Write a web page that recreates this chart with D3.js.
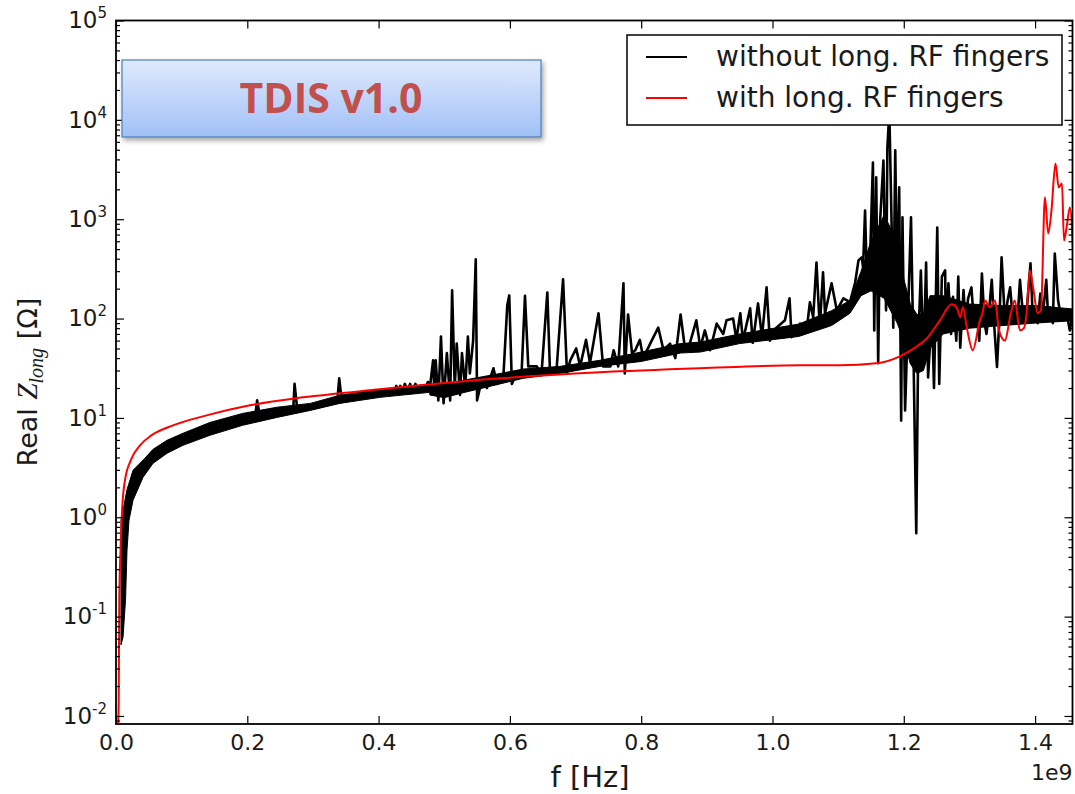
<!DOCTYPE html>
<html>
<head>
<meta charset="utf-8">
<script src="https://cdn.jsdelivr.net/npm/d3@7"></script>
<style>
body { margin: 0; background: #fff; }
</style>
</head>
<body>
<div id="my_dataviz"></div>
<script>
// frequency is in units of 1e9 Hz, impedance in Ohm

// with long. RF fingers (red)
var redPts = [
    [0.0030, 0.005], [0.0035, 0.0083], [0.0041, 0.0144], [0.005, 0.146], [0.0069, 0.47],
    [0.0102, 1.48], [0.0137, 2.36], [0.0224, 3.74], [0.0366, 5.3], [0.0544, 6.7],
    [0.0868, 8.4], [0.138, 10.6], [0.204, 13.4], [0.285, 16.1], [0.402, 19.4],
    [0.585, 25.0], [0.737, 28.8], [0.890, 31.6], [1.042, 33.8], [1.103, 33.8],
    [1.158, 35.4], [1.194, 41.7], [1.217, 51], [1.235, 63], [1.255, 96],
    [1.273, 139], [1.281, 127], [1.286, 103], [1.290, 130], [1.296, 81],
    [1.305, 48], [1.316, 96], [1.320, 113], [1.324, 152], [1.331, 130],
    [1.339, 152], [1.345, 76], [1.354, 60], [1.363, 113], [1.369, 152],
    [1.377, 76], [1.383, 80], [1.387, 113], [1.392, 305], [1.397, 206],
    [1.404, 113], [1.409, 121], [1.415, 1660], [1.420, 720], [1.425, 1225],
    [1.431, 3640], [1.436, 2090], [1.441, 2290], [1.444, 612], [1.448, 826],
    [1.453, 1315], [1.459, 305]
];

// without long. RF fingers (black): dense low-frequency band, [f, low, high]
var bandPts = [
    [0.0076, 0.052, 0.93], [0.0107, 0.062, 1.17], [0.0145, 0.146, 1.59], [0.0168, 0.47, 1.9],
    [0.0198, 0.93, 2.2], [0.0259, 1.48, 2.97], [0.0411, 2.52, 3.74], [0.0564, 3.49, 4.83],
    [0.0777, 4.40, 5.95], [0.102, 5.30, 7.0], [0.143, 6.68, 9.0], [0.193, 8.43, 11.1],
    [0.245, 10.1, 12.8], [0.296, 11.9, 14.0], [0.341, 14.0, 16.9], [0.402, 16.1, 19.4],
    [0.478, 18.1, 21.8]
];

// without long. RF fingers (black): envelope of the fast ripple above 0.48e9, [f, low, high]
var rippleBand = [
    [0.478, 17, 22], [0.50, 16, 22], [0.53, 18, 24], [0.585, 22, 28], [0.62, 25, 31],
    [0.676, 28, 33], [0.737, 33, 38], [0.80, 37, 46], [0.86, 45, 56], [0.89, 46, 58],
    [0.95, 56, 70], [1.04, 66, 88], [1.09, 85, 120], [1.118, 113, 152], [1.135, 170, 300],
    [1.15, 190, 600], [1.17, 160, 1100], [1.19, 90, 600], [1.20, 60, 250], [1.21, 35, 140],
    [1.22, 28, 110], [1.23, 30, 110], [1.24, 50, 170], [1.26, 70, 170], [1.30, 80, 140],
    [1.35, 85, 135], [1.40, 90, 135], [1.457, 95, 125]
];

// without long. RF fingers (black): trace
var blackPts = [
    [0.193, 9.7], [0.204, 10.1], [0.212, 10.3], [0.215, 15], [0.219, 10.5], [0.235, 11.0],
    [0.245, 11.4], [0.265, 12.0], [0.270, 12.2], [0.272, 22], [0.276, 12.3], [0.280, 12.4],
    [0.311, 13.1], [0.337, 14.4], [0.340, 25], [0.344, 14.6], [0.372, 16.5], [0.402, 17.7],
    [0.425, 18.4], [0.427, 21], [0.430, 18.5], [0.433, 21], [0.437, 18.5], [0.440, 22],
    [0.444, 18.8], [0.448, 22], [0.452, 19], [0.456, 22], [0.460, 19.2], [0.466, 21],
    [0.471, 19.5], [0.475, 23], [0.478, 19.8], [0.483, 38], [0.485, 18], [0.487, 38],
    [0.491, 15], [0.495, 66], [0.499, 14.1], [0.504, 45], [0.509, 15], [0.512, 192],
    [0.516, 20], [0.519, 56], [0.524, 17], [0.527, 45], [0.532, 20], [0.536, 66],
    [0.539, 28], [0.544, 60], [0.548, 394], [0.550, 15], [0.557, 24], [0.565, 20],
    [0.575, 31.6], [0.580, 22], [0.590, 25.6], [0.596, 136], [0.599, 171], [0.603, 22],
    [0.610, 28], [0.618, 30], [0.623, 169], [0.628, 33], [0.641, 33], [0.648, 27],
    [0.657, 183], [0.661, 30], [0.671, 30], [0.681, 248], [0.687, 28], [0.692, 38],
    [0.701, 50], [0.707, 33], [0.716, 61], [0.722, 35.6], [0.735, 113], [0.742, 33],
    [0.753, 33], [0.758, 48], [0.765, 33], [0.773, 226], [0.775, 28], [0.780, 110],
    [0.786, 45], [0.791, 48], [0.798, 61], [0.803, 40], [0.816, 60], [0.826, 81],
    [0.834, 48], [0.844, 56], [0.852, 40], [0.860, 110], [0.867, 48], [0.874, 56],
    [0.884, 96], [0.890, 51], [0.897, 76], [0.905, 48], [0.915, 89], [0.925, 70],
    [0.930, 96], [0.940, 100], [0.945, 62], [0.951, 113], [0.955, 60], [0.966, 127],
    [0.970, 57], [0.978, 142], [0.984, 65], [0.991, 206], [0.996, 60], [1.006, 81],
    [1.019, 96], [1.026, 160], [1.029, 65], [1.042, 89], [1.052, 76], [1.057, 146],
    [1.062, 103], [1.067, 367], [1.072, 81], [1.077, 292], [1.080, 113], [1.090, 226],
    [1.098, 121], [1.108, 160], [1.118, 146], [1.126, 232], [1.131, 385], [1.136, 413],
    [1.138, 327], [1.141, 1225], [1.144, 226], [1.149, 485], [1.153, 3720], [1.155, 76],
    [1.158, 2640], [1.161, 35.6], [1.164, 973], [1.169, 3900], [1.173, 121], [1.175, 5270],
    [1.178, 12000], [1.182, 571], [1.184, 81], [1.187, 4930], [1.190, 166], [1.193, 2090],
    [1.196, 9.4], [1.198, 1043], [1.202, 11.9], [1.207, 142], [1.211, 1043], [1.215, 35.6],
    [1.219, 0.69], [1.222, 56], [1.226, 305], [1.230, 38], [1.234, 367], [1.237, 25.6],
    [1.243, 121], [1.246, 20], [1.251, 826], [1.254, 22], [1.258, 264], [1.263, 305],
    [1.264, 81], [1.268, 226], [1.272, 70], [1.275, 166], [1.280, 60], [1.283, 264],
    [1.286, 51], [1.291, 194], [1.294, 90], [1.298, 160], [1.303, 206], [1.307, 90],
    [1.311, 113], [1.315, 60], [1.319, 284], [1.323, 90], [1.326, 70], [1.330, 120],
    [1.334, 245], [1.338, 80], [1.342, 32.6], [1.346, 110], [1.349, 413], [1.354, 96],
    [1.358, 150], [1.362, 206], [1.366, 100], [1.369, 130], [1.373, 90], [1.377, 245],
    [1.382, 100], [1.387, 113], [1.393, 359], [1.396, 120], [1.400, 113], [1.404, 90],
    [1.408, 178], [1.412, 110], [1.417, 245], [1.420, 100], [1.423, 130], [1.427, 90],
    [1.430, 452], [1.435, 152], [1.440, 100], [1.443, 103], [1.448, 113], [1.453, 76],
    [1.458, 121]
];

// axis ticks
var xTicks = [0, 0.2, 0.4, 0.6, 0.8, 1.0, 1.2, 1.4];
var xTickLabels = ["0.0", "0.2", "0.4", "0.6", "0.8", "1.0", "1.2", "1.4"];
var yExponents = [-2, -1, 0, 1, 2, 3, 4, 5];
var legendLabels = ["without long. RF fingers", "with long. RF fingers"];
var legendColors = ["#000000", "#ff0000"];

// set the dimensions of the figure
var widthValue = 1075;
var heightValue = 794;
var plot = { left: 116, right: 1072.5, top: 20.5, bottom: 724 };

var svg = d3.select("#my_dataviz")
    .append("svg")
    .attr("width", widthValue)
    .attr("height", heightValue)
    .style("font-family", "'DejaVu Sans', sans-serif");

var defs = svg.append("defs");
defs.append("clipPath")
    .attr("id", "clip")
    .append("rect")
    .attr("x", plot.left)
    .attr("y", plot.top)
    .attr("width", plot.right - plot.left)
    .attr("height", plot.bottom - plot.top);

var grad = defs.append("linearGradient")
    .attr("id", "boxGrad")
    .attr("x1", 0).attr("y1", 0).attr("x2", 0).attr("y2", 1);
grad.append("stop").attr("offset", "0%").attr("stop-color", "#dfe9fc");
grad.append("stop").attr("offset", "100%").attr("stop-color", "#a1c0f6");

var shadow = defs.append("filter")
    .attr("id", "shadow")
    .attr("x", "-10%").attr("y", "-20%").attr("width", "130%").attr("height", "160%");
shadow.append("feDropShadow")
    .attr("dx", 2).attr("dy", 3)
    .attr("stdDeviation", 2.5)
    .attr("flood-color", "#000")
    .attr("flood-opacity", 0.35);

// scales
var x = d3.scaleLinear()
    .domain([0, 1.457])
    .range([plot.left, plot.right]);

var y = d3.scaleLog()
    .domain([0.0083, 1e5])
    .range([plot.bottom, plot.top]);

var yMajor = yExponents.map(function(e) { return Math.pow(10, e); });
var yMinor = [];
[-3].concat(yExponents).forEach(function(e) {
    for (var k = 2; k <= 9; k++) {
        var v = k * Math.pow(10, e);
        if (v >= 0.0083 && v <= 1e5) yMinor.push(v);
    }
});

// data layers
var dataG = svg.append("g").attr("clip-path", "url(#clip)");

var bandArea = d3.area()
    .x(function(d) { return x(d[0]) })
    .y0(function(d) { return y(d[1]) })
    .y1(function(d) { return y(d[2]) });

dataG.append("path")
    .datum(bandPts)
    .attr("d", bandArea)
    .attr("fill", "black")
    .attr("stroke", "black")
    .attr("stroke-width", 1);

dataG.append("path")
    .datum(rippleBand)
    .attr("d", bandArea)
    .attr("fill", "black")
    .attr("stroke", "black")
    .attr("stroke-width", 1);

dataG.append("path")
    .datum(blackPts)
    .attr("d", d3.line()
        .x(function(d) { return x(d[0]) })
        .y(function(d) { return y(d[1]) })
    )
    .attr("fill", "none")
    .attr("stroke", "black")
    .attr("stroke-width", 2.6)
    .attr("stroke-linejoin", "round");

dataG.append("path")
    .datum(redPts)
    .attr("d", d3.line()
        .curve(d3.curveMonotoneX)
        .x(function(d) { return x(d[0]) })
        .y(function(d) { return y(d[1]) })
    )
    .attr("fill", "none")
    .attr("stroke", "#ff0000")
    .attr("stroke-width", 2)
    .attr("stroke-linejoin", "round");

// Add X axis (bottom with labels, top ticks only)
var xBottom = svg.append("g")
    .attr("transform", "translate(0," + plot.bottom + ")")
    .call(d3.axisBottom(x)
        .tickValues(xTicks)
        .tickSize(-8)
        .tickPadding(10)
        .tickFormat(function(d, i) { return xTickLabels[i]; }));
xBottom.select(".domain").remove();
xBottom.selectAll("text")
    .attr("font-size", "22px")
    .attr("font-family", "'DejaVu Sans', sans-serif")
    .attr("fill", "#1a1a1a");

var xTop = svg.append("g")
    .attr("transform", "translate(0," + plot.top + ")")
    .call(d3.axisTop(x).tickValues(xTicks).tickSize(-8).tickFormat(""));
xTop.select(".domain").remove();

// Add Y axis (log) on both sides
function yAxisSide(axisFn, xPos, withLabels) {
    var gMin = svg.append("g")
        .attr("transform", "translate(" + xPos + ",0)")
        .call(axisFn(y).tickValues(yMinor).tickSize(-4).tickFormat(""));
    gMin.select(".domain").remove();
    var gMaj = svg.append("g")
        .attr("transform", "translate(" + xPos + ",0)")
        .call(axisFn(y).tickValues(yMajor).tickSize(-8).tickPadding(9).tickFormat(""));
    gMaj.select(".domain").remove();
    if (withLabels) {
        gMaj.selectAll("text")
            .attr("font-size", "23px")
            .attr("font-family", "'DejaVu Sans', sans-serif")
            .attr("fill", "#1a1a1a")
            .each(function(d) {
                var t = d3.select(this).text("10");
                t.append("tspan")
                    .attr("dy", "-10")
                    .attr("font-size", "15px")
                    .text(Math.round(Math.log10(d)));
            });
    }
}
yAxisSide(d3.axisLeft, plot.left, true);
yAxisSide(d3.axisRight, plot.right, false);

svg.selectAll(".tick line")
    .attr("stroke", "#000")
    .attr("stroke-width", 1.2);

// frame
svg.append("rect")
    .attr("x", plot.left)
    .attr("y", plot.top)
    .attr("width", plot.right - plot.left)
    .attr("height", plot.bottom - plot.top)
    .attr("fill", "none")
    .attr("stroke", "#000")
    .attr("stroke-width", 1.8);

// axis labels
svg.append("text")
    .attr("x", 590)
    .attr("y", 787)
    .attr("text-anchor", "middle")
    .attr("font-size", "29px")
    .attr("fill", "#1a1a1a")
    .text("f [Hz]");

svg.append("text")
    .attr("x", plot.right)
    .attr("y", 780)
    .attr("text-anchor", "end")
    .attr("font-size", "22px")
    .attr("fill", "#1a1a1a")
    .text("1e9");

var yLab = svg.append("text")
    .attr("transform", "translate(37,382) rotate(-90)")
    .attr("text-anchor", "middle")
    .attr("font-size", "27px")
    .attr("fill", "#1a1a1a");
yLab.append("tspan").text("Real ");
yLab.append("tspan")
    .attr("font-family", "'Liberation Serif', serif")
    .attr("font-style", "italic")
    .attr("font-size", "29px")
    .text("Z");
yLab.append("tspan")
    .attr("font-family", "'Liberation Serif', serif")
    .attr("font-style", "italic")
    .attr("font-size", "20px")
    .attr("dy", 6)
    .text("long");
yLab.append("tspan")
    .attr("dy", -6)
    .text(" [\u03A9]");

// legend
var legend = svg.append("g");
legend.append("rect")
    .attr("x", 627)
    .attr("y", 35)
    .attr("width", 435)
    .attr("height", 90)
    .attr("fill", "#fff")
    .attr("stroke", "#000")
    .attr("stroke-width", 1.5);

legend.selectAll("line.key")
    .data(legendLabels)
    .enter()
    .append("line")
    .attr("x1", 646)
    .attr("x2", 687)
    .attr("y1", function(d, i) { return 57 + i * 41 })
    .attr("y2", function(d, i) { return 57 + i * 41 })
    .attr("stroke", function(d, i) { return legendColors[i] })
    .attr("stroke-width", 2);

legend.selectAll("text.key")
    .data(legendLabels)
    .enter()
    .append("text")
    .attr("x", 716)
    .attr("y", function(d, i) { return 66 + i * 41 })
    .attr("font-size", "28px")
    .attr("fill", "#1a1a1a")
    .text(function(d) { return d });

// TDIS v1.0 box
svg.append("rect")
    .attr("x", 122)
    .attr("y", 60)
    .attr("width", 419)
    .attr("height", 77)
    .attr("fill", "url(#boxGrad)")
    .attr("stroke", "#4a7ebb")
    .attr("stroke-width", 1.2)
    .attr("filter", "url(#shadow)");

svg.append("text")
    .attr("x", 331)
    .attr("y", 113)
    .attr("text-anchor", "middle")
    .attr("font-family", "'Open Sans', sans-serif")
    .attr("font-weight", "bold")
    .attr("font-size", "41px")
    .attr("fill", "#c0504d")
    .text("TDIS v1.0");
</script>
</body>
</html>
